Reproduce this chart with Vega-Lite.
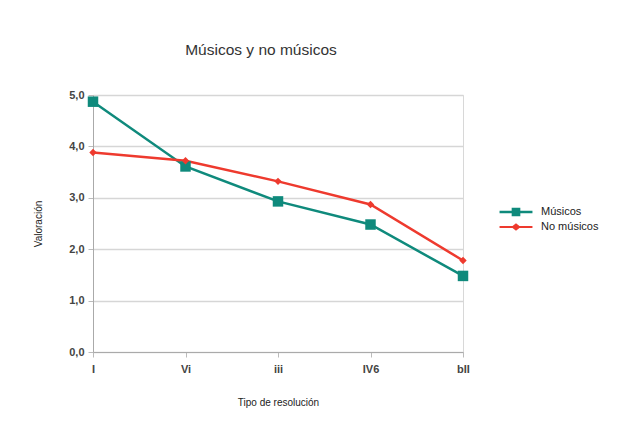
{
  "$schema": "https://vega.github.io/schema/vega-lite/v6.json",
  "autosize": "none",
  "width": 370,
  "height": 257,
  "padding": {"left": 93, "top": 95, "right": 158, "bottom": 73},
  "background": "white",
  "title": {"text": "Músicos y no músicos", "fontSize": 15.5, "fontWeight": "normal", "color": "#333333", "font": "Liberation Sans", "anchor": "middle", "frame": "group", "dx": -17, "offset": 31},
  "data": {"values": [
    {"res": "I", "grupo": "Músicos", "val": 4.87},
    {"res": "Vi", "grupo": "Músicos", "val": 3.61},
    {"res": "iii", "grupo": "Músicos", "val": 2.93},
    {"res": "IV6", "grupo": "Músicos", "val": 2.48},
    {"res": "bII", "grupo": "Músicos", "val": 1.48},
    {"res": "I", "grupo": "No músicos", "val": 3.88},
    {"res": "Vi", "grupo": "No músicos", "val": 3.72},
    {"res": "iii", "grupo": "No músicos", "val": 3.32},
    {"res": "IV6", "grupo": "No músicos", "val": 2.87},
    {"res": "bII", "grupo": "No músicos", "val": 1.78}
  ]},
  "encoding": {
    "x": {"field": "res", "type": "ordinal", "sort": ["I", "Vi", "iii", "IV6", "bII"], "scale": {"type": "point", "padding": 0},
      "axis": {"title": "Tipo de resolución", "titleFontSize": 10, "titleFontWeight": "normal", "titleColor": "#222", "titlePadding": 23, "labelAngle": 0, "labelFontSize": 11, "labelFontWeight": "bold", "labelColor": "#444", "labelPadding": 6, "tickSize": 5, "tickColor": "#bbbbbb", "domainColor": "#aaaaaa", "grid": false}},
    "y": {"field": "val", "type": "quantitative", "scale": {"domain": [0, 5], "nice": false},
      "axis": {"title": "Valoración", "titleFontSize": 10, "titleFontWeight": "normal", "titleColor": "#222", "titlePadding": 25, "values": [0, 1, 2, 3, 4, 5], "labelExpr": "replace(format(datum.value, '.1f'), '.', ',')", "labelFontSize": 11, "labelFontWeight": "bold", "labelColor": "#444", "labelPadding": 4, "tickSize": 5, "tickColor": "#bbbbbb", "domainColor": "#aaaaaa", "grid": true, "gridColor": "#d6d6d6", "gridWidth": 1.5}},
    "color": {"field": "grupo", "type": "nominal", "scale": {"domain": ["Músicos", "No músicos"], "range": ["#0f8a7c", "#ee3a2e"]}}
  },
  "layer": [
    {
      "mark": {"type": "line", "strokeWidth": 2.5},
      "encoding": {
        "color": {"field": "grupo", "type": "nominal", "scale": {"domain": ["Músicos", "No músicos"], "range": ["#0f8a7c", "#ee3a2e"]},
          "legend": {"orient": "none", "legendX": 414, "legendY": 108, "title": null, "labelFontSize": 11, "labelColor": "#222", "labelOffset": 16, "symbolSize": 300, "rowPadding": 1,
            "encode": {"symbols": {"update": {
              "shape": {"signal": "datum.value === 'Músicos' ? 'M-1.9,-0.14H-0.5V-0.5H0.5V-0.14H1.9V0.14H0.5V0.5H-0.5V0.14H-1.9Z' : 'M-1.9,-0.12H-0.4L0,-0.42L0.4,-0.12H1.9V0.12H0.4L0,0.42L-0.4,0.12H-1.9Z'"},
              "fill": {"signal": "datum.value === 'Músicos' ? '#0f8a7c' : '#ee3a2e'"},
              "stroke": {"value": "transparent"},
              "strokeWidth": {"value": 0},
              "opacity": {"value": 1}
            }}}}}
      }
    },
    {
      "transform": [{"filter": "datum.grupo === 'Músicos'"}],
      "mark": {"type": "point", "filled": true, "opacity": 1, "shape": "square", "size": 110}
    },
    {
      "transform": [{"filter": "datum.grupo === 'No músicos'"}],
      "mark": {"type": "point", "filled": true, "opacity": 1, "shape": "diamond", "size": 55}
    }
  ],
  "config": {
    "font": "Liberation Sans",
    "view": {"stroke": "#d8d8d8", "strokeWidth": 1}
  }
}
